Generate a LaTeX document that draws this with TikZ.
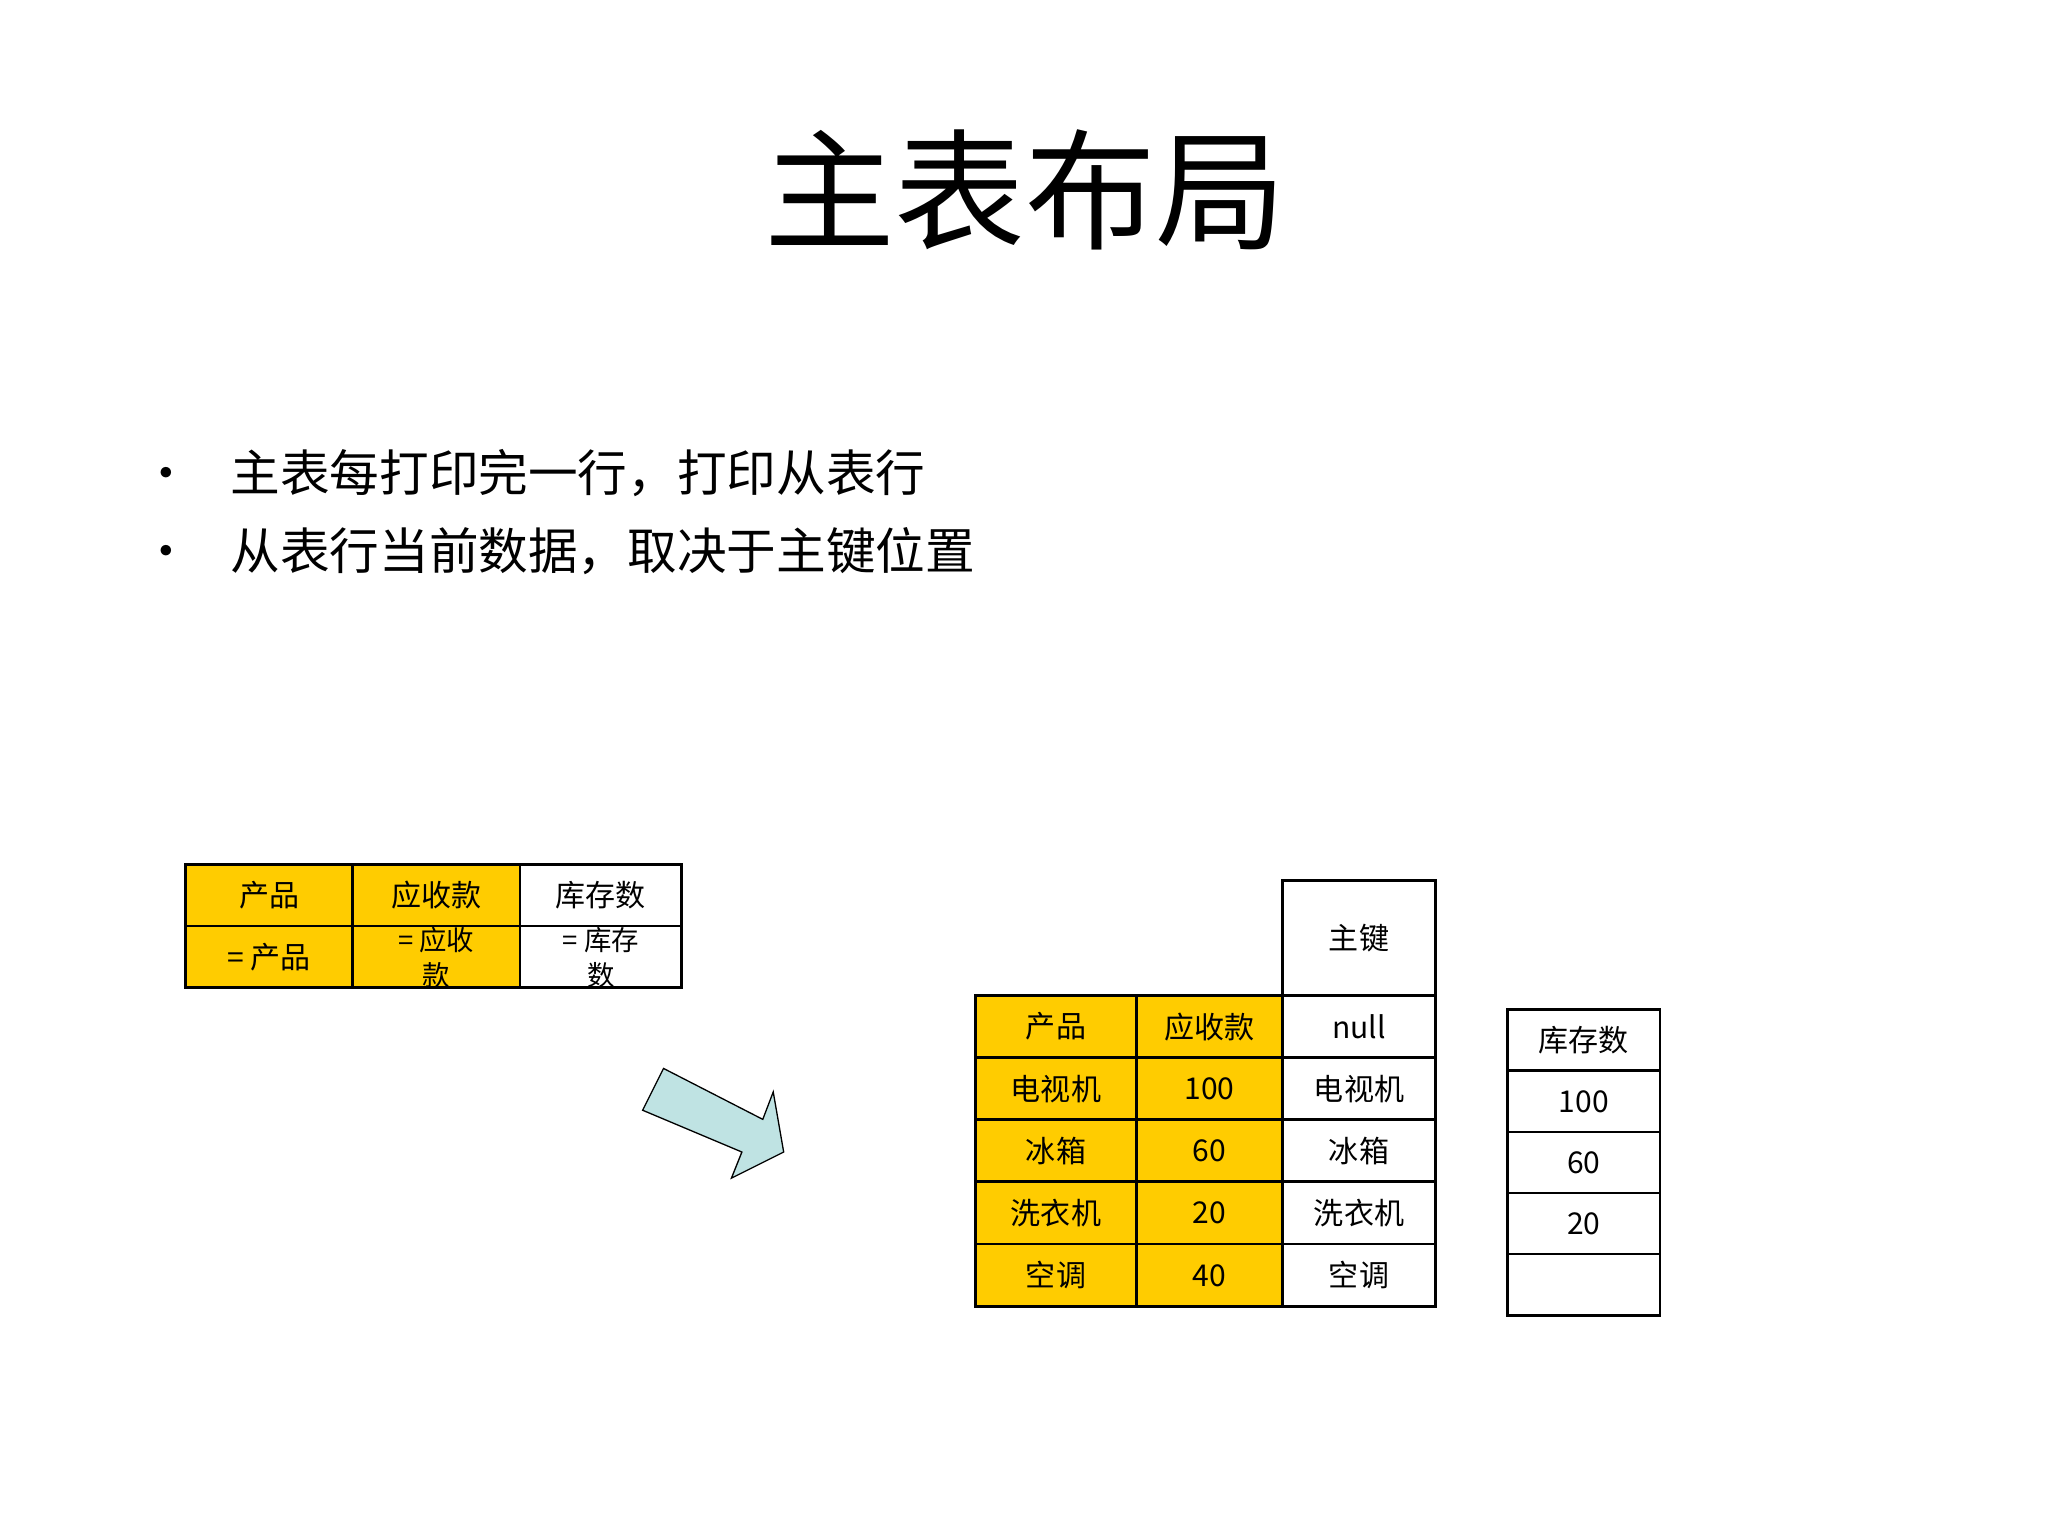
\documentclass[tikz,border=0pt]{standalone}
\usepackage{fontspec}
\newfontfamily\cjk{Noto Sans CJK SC}
\newfontfamily\lat{Liberation Serif}
\definecolor{yel}{HTML}{FFCC00}
\definecolor{arr}{HTML}{BFE3E3}
\begin{document}
\begin{tikzpicture}[x=1pt,y=-1pt,
  cell/.style={draw=black,line width=2pt,inner sep=0pt,align=center,font=\cjk\fontsize{23}{25}\selectfont},
  yc/.style={cell,fill=yel},
  wc/.style={cell,fill=white}]
\useasboundingbox (0,0) rectangle (1568,1176);
\node[font=\cjk\fontsize{100}{110}\selectfont] (title) at (785,145) {主表布局};
\node[anchor=west,font=\cjk\fontsize{38}{42}\selectfont] (b1) at (105,362) {•\hspace{30pt}主表每打印完一行，打印从表行};
\node[anchor=west,font=\cjk\fontsize{38}{42}\selectfont] (b2) at (105,422) {•\hspace{30pt}从表行当前数据，取决于主键位置};
% left table
\node[yc,minimum width=128pt,minimum height=47pt] (l11) at (206,685.5) {产品};
\node[yc,minimum width=128pt,minimum height=47pt] (l12) at (334,685.5) {应收款};
\node[wc,minimum width=124pt,minimum height=47pt] (l13) at (460,685.5) {库存数};
\node[yc,minimum width=128pt,minimum height=47pt] (l21) at (206,732.5) {= 产品};
\node[yc,minimum width=128pt,minimum height=47pt,text height=0pt] (l22) at (334,732.5) {};
\node[wc,minimum width=124pt,minimum height=47pt] (l23) at (460,732.5) {};
\node[font=\cjk\fontsize{21}{27}\selectfont,align=center] (t22) at (334,733) {= 应收\\款};
\node[font=\cjk\fontsize{21}{27}\selectfont,align=center] (t23) at (460,733) {= 库存\\数};
% arrow
\draw[fill=arr,draw=black,line width=1pt] (492,850) -- (508,818) -- (584,857) -- (592,836) -- (600,882) -- (560,902) -- (568,882) -- cycle;
% right table
\node[wc,minimum width=117pt,minimum height=88pt] (pk) at (1040.5,718) {主键};
\foreach \r/\a/\b/\c [count=\i] in {0/产品/应收款/null,1/电视机/100/电视机,2/冰箱/60/冰箱,3/洗衣机/20/洗衣机,4/空调/40/空调}{
  \node[yc,minimum width=123pt,minimum height=48pt] (ra\i) at (808.5,786+47.6*\r) {\a};
  \node[yc,minimum width=112pt,minimum height=48pt] (rb\i) at (926,786+47.6*\r) {\b};
  \node[wc,minimum width=117pt,minimum height=48pt] (rc\i) at (1040.5,786+47.6*\r) {\c};
}
\foreach \r/\a [count=\i] in {0/库存数,1/100,2/60,3/20,4/{}}{
  \node[wc,minimum width=117pt,minimum height=47pt] (s\i) at (1212.5,796.5+46.8*\r) {\a};
}
\end{tikzpicture}
\end{document}
